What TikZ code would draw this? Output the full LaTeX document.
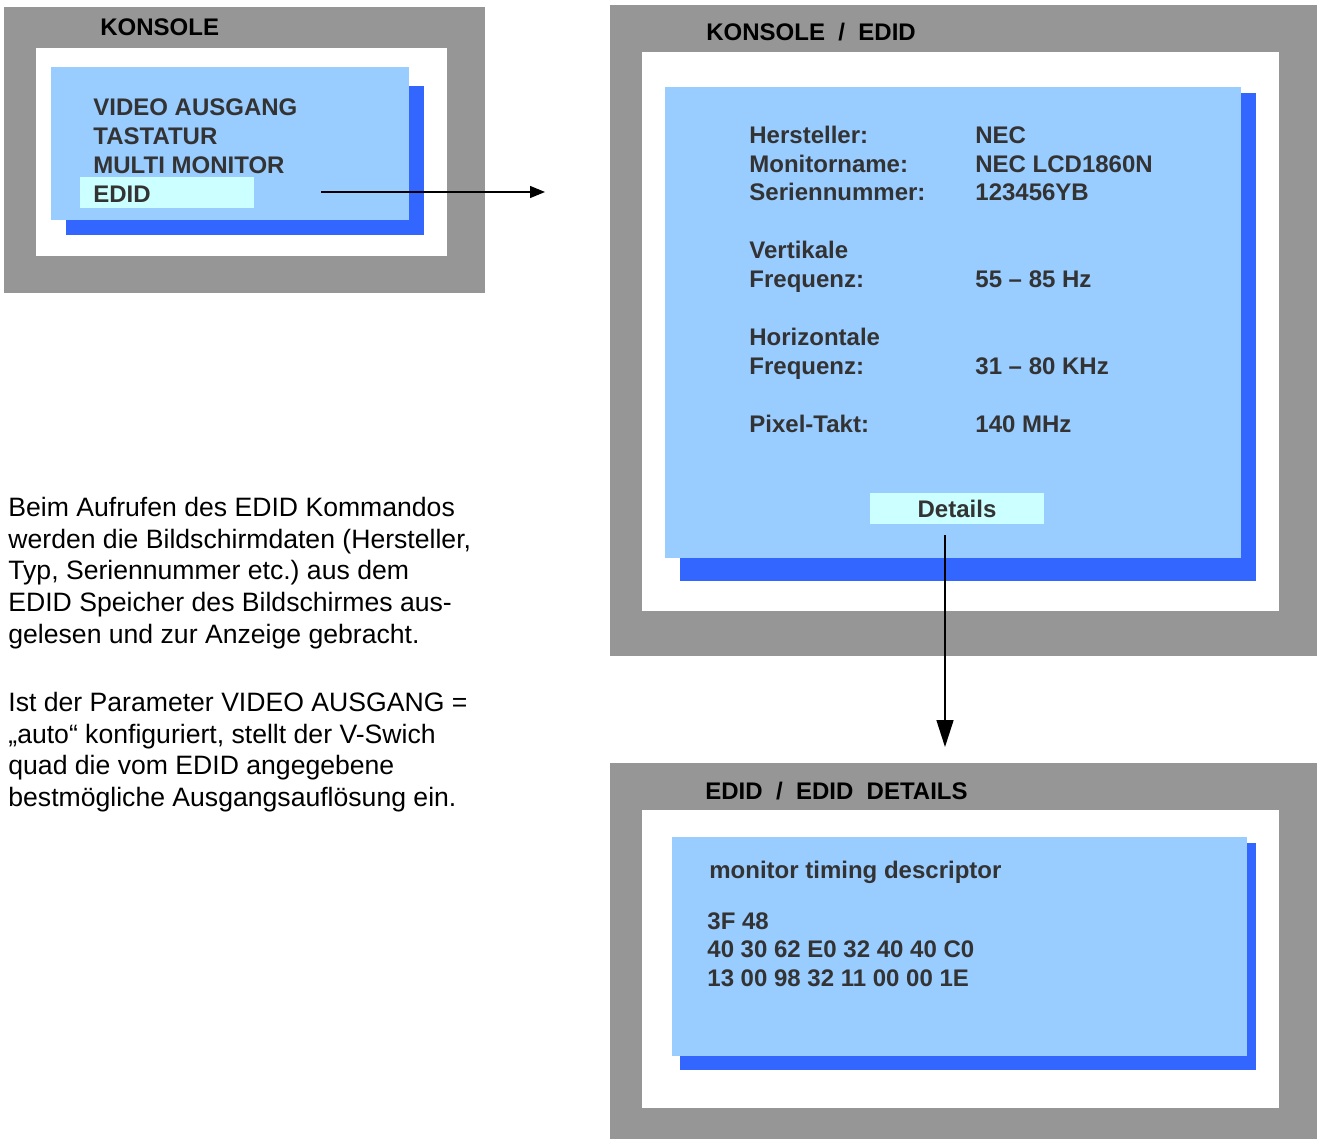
\documentclass[tikz,border=0pt]{standalone}
\usepackage{fontspec}
\setmainfont{Liberation Sans}
\usetikzlibrary{arrows.meta}
\definecolor{framegray}{RGB}{150,150,150}
\definecolor{winblue}{RGB}{153,204,255}
\definecolor{shadowblue}{RGB}{51,102,255}
\definecolor{selcyan}{RGB}{204,255,255}
\definecolor{txtgray}{RGB}{51,51,51}
\frenchspacing

\begin{document}
\begin{tikzpicture}[x=0.5pt, y=-0.5pt,
    ttl/.style={anchor=base west, inner sep=0pt, font=\fontsize{12}{14}\selectfont\bfseries},
    itm/.style={anchor=base west, inner sep=0pt, text=txtgray, font=\fontsize{12}{14}\selectfont\bfseries},
    txt/.style={anchor=base west, inner sep=0pt, font=\fontsize{13.3}{16}\selectfont},
    arr/.style={-{Triangle[length=7.5pt,width=6pt]}, line width=0.6pt}]
\useasboundingbox (0,0) rectangle (1323,1139);

% screen 1: KONSOLE
\fill[framegray] (4,7) rectangle (485,293);
\fill[white] (36,48) rectangle (447,256);
\fill[shadowblue] (66,86) rectangle (424,235);
\fill[winblue] (51,67) rectangle (409,220);
\fill[selcyan] (80,177) rectangle (254,208);
\node[ttl] (t1) at (100,36) {KONSOLE};
\foreach \i/\txt in {1/VIDEO AUSGANG, 2/TASTATUR, 3/MULTI MONITOR, 4/EDID}
    \node[itm] (m\i) at (93,{87.3+28.7*\i}) {\txt};

% screen 2: KONSOLE / EDID
\fill[framegray] (610,5) rectangle (1317,656);
\fill[white] (642,52) rectangle (1279,611);
\fill[shadowblue] (680,93) rectangle (1256,581);
\fill[winblue] (665,87) rectangle (1241,558);
\node[ttl] (t2) at (706,41) {KONSOLE~~/~~EDID};
\foreach \y/\lab in {144/Hersteller:, 173/Monitorname:, 201/Seriennummer:, 259/Vertikale,
                     288/Frequenz:, 345/Horizontale, 374/Frequenz:, 432/Pixel-Takt:}
    \node[itm] (lab\y) at (749,\y) {\lab};
\foreach \y/\val in {144/NEC, 173/NEC LCD1860N, 201/123456YB, 288/55 -- 85 Hz,
                     374/31 -- 80 KHz, 432/140 MHz}
    \node[itm] (val\y) at (975,\y) {\val};
\node[itm, anchor=center, fill=selcyan, minimum width=87pt, minimum height=15.25pt] (det) at (957,508.5) {Details};

% screen 3: EDID / EDID DETAILS
\fill[framegray] (610,763) rectangle (1317,1139);
\fill[white] (642,810) rectangle (1279,1108);
\fill[shadowblue] (680,843) rectangle (1256,1070);
\fill[winblue] (672,837) rectangle (1247,1056);
\node[ttl] (t3) at (705,799) {EDID~~/~~EDID~~DETAILS};
\node[itm] (desc) at (709,878) {monitor timing descriptor};
\foreach \i/\hex in {1/3F 48, 2/40 30 62 E0 32 40 40 C0, 3/13 00 98 32 11 00 00 1E}
    \node[itm] (hex\i) at (707,{900.3+28.7*\i}) {\hex};

% explanation
\foreach \i/\y/\ln in {1/516.5/Beim Aufrufen des EDID Kommandos,
                       2/548.2/{werden die Bildschirmdaten (Hersteller,},
                       3/579.9/{Typ, Seriennummer etc.) aus dem},
                       4/611.6/EDID Speicher des Bildschirmes aus-,
                       5/643.3/gelesen und zur Anzeige gebracht.,
                       6/711.5/Ist der Parameter VIDEO AUSGANG =,
                       7/743.2/{„auto“ konfiguriert, stellt der V-Swich},
                       8/774.9/quad die vom EDID angegebene,
                       9/806.6/bestmögliche Ausgangsauflösung ein.}
    \node[txt] (p\i) at (8,\y) {\ln};

% arrows
\coordinate (s1) at (321,192);
\coordinate (e1) at (545,192);
\draw[arr] (s1) -- (e1);
\coordinate (s2) at (945,535);
\coordinate (e2) at (945,747);
\draw[-{Triangle[length=13.5pt,width=8.5pt]}, line width=0.8pt] (s2) -- (e2);
\end{tikzpicture}
\end{document}
